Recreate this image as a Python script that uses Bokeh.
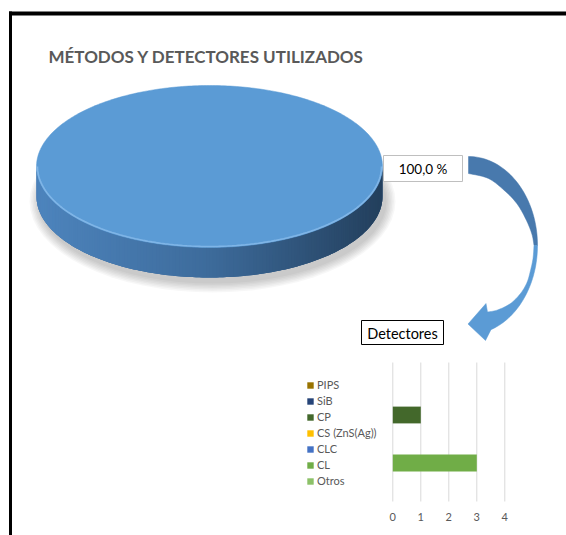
import numpy as np
from bokeh.plotting import figure
from bokeh.models import (Range1d, LinearAxis, FixedTicker, Legend, LegendItem,
                          ColumnDataSource)
from bokeh.core.properties import value
from bokeh.embed import file_html
from bokeh.resources import INLINE

# ---------------- data ----------------
title_text = "MÉTODOS  Y DETECTORES  UTILIZADOS"
pie_labels = ["Métodos"]
pie_values = [4]
detector_title = "Detectores"
detectors = ["PIPS", "SiB", "CP", "CS (ZnS(Ag))", "CLC", "CL", "Otros"]
detector_counts = [0, 0, 1, 0, 0, 3, 0]
detector_colors = ["#997300", "#264478", "#43682B", "#FFC000", "#4472C4", "#70AD47", "#8CC168"]
x_ticks = [0, 1, 2, 3, 4]

# ---------------- layout (page pixels) ----------------
W, H = 566, 535
FX0, FX1 = 0, W
FY0, FY1 = 0, H
FONT_NAME = "Lato"
FONT = value(FONT_NAME)
GRAY = "#595959"

# bar chart placement
BX0, BXU = 392.3, 28.0        # page x of value 0, px per unit
BY0, BYU = 382.5, 16.0        # page y of first category, px per category
AXIS_Y = 501                  # page y of the (invisible) bar value axis line

p = figure(width=W, height=H, output_backend="svg", toolbar_location=None,
           x_axis_type=None, y_axis_type=None,
           x_range=Range1d(FX0, FX1), y_range=Range1d(FY1, FY0),
           min_border=0)
p.outline_line_color = None
p.background_fill_color = "white"
p.border_fill_color = "white"
p.extra_x_ranges = {"bx": Range1d((FX0 - BX0) / BXU, (FX1 - BX0) / BXU)}
p.extra_y_ranges = {"by": Range1d((FY1 - BY0) / BYU, (FY0 - BY0) / BYU)}

# ---------------- frame border ----------------
p.line(x=[8.5, 566], y=[13, 13], line_color="black", line_width=4)
p.line(x=[10, 10], y=[11, 535], line_color="black", line_width=3)

# ---------------- title ----------------
p.text(x=[48], y=[56], text=[title_text], text_font=FONT, text_font_style="bold",
       text_font_size="17px", text_color=GRAY, text_baseline="alphabetic")

# ---------------- 3D pie ----------------
cx, cy, rx, ry, depth = 209.0, 166.0, 173.0, 81.0, 30.0

# soft shadow
for k in range(7):
    p.ellipse(x=[cx + 3], y=[cy + depth + 5], width=[2 * rx + 2 + 3 * k],
              height=[2 * ry + 2 + 3 * k], fill_color="black", fill_alpha=0.03,
              line_color=None)

def hex2rgb(h):
    return np.array([int(h[i:i + 2], 16) for i in (1, 3, 5)], dtype=float)

c_left, c_mid, c_right = hex2rgb("#4D84BD"), hex2rgb("#3D6B9B"), hex2rgb("#233F5C")

def side_color(frac):
    if frac < 0.5:
        c = c_left + (c_mid - c_left) * (frac / 0.5)
    else:
        c = c_mid + (c_right - c_mid) * ((frac - 0.5) / 0.5)
    return "#%02x%02x%02x" % tuple(int(round(v)) for v in c)

total = float(sum(pie_values))
angles = np.concatenate([[0.0], np.cumsum(pie_values) / total * 2 * np.pi])
for i, v in enumerate(pie_values):
    a0, a1 = angles[i], angles[i + 1]
    # visible front side: angles between pi/2 and 3pi/2 (clockwise from top)
    s0, s1 = max(a0, np.pi / 2), min(a1, 3 * np.pi / 2)
    if s1 > s0:
        n = 160
        t = np.linspace(s0, s1, n + 1)
        xs = cx + rx * np.sin(t)
        ys = cy - ry * np.cos(t)
        p.patch(x=list(xs) + list(xs[::-1]), y=list(ys) + list(ys[::-1] + depth),
                fill_color=side_color(0.5), line_color=None)
        sx, sy, sc = [], [], []
        for k in range(n):
            k2 = min(k + 2, n)
            seg_x = list(xs[k:k2 + 1])
            seg_y = list(ys[k:k2 + 1])
            sx.append(seg_x + seg_x[::-1])
            sy.append(seg_y + [yy + depth for yy in seg_y[::-1]])
            frac = ((xs[k] + xs[k + 1]) / 2 - (cx - rx)) / (2 * rx)
            sc.append(side_color(frac))
        p.patches(xs=sx, ys=sy, fill_color=sc, line_color=None)
    # top face
    t = np.linspace(a0, a1, 361)
    tx = list(cx + rx * np.sin(t))
    ty = list(cy - ry * np.cos(t))
    if a1 - a0 < 2 * np.pi - 1e-9:
        tx = [cx] + tx
        ty = [cy] + ty
    p.patch(x=tx, y=ty, fill_color="#5B9BD5", line_color="#5B9BD5", line_width=0.5)
    # bevel highlight on the front rim
    if s1 > s0:
        t = np.linspace(s0, s1, 121)
        p.line(x=cx + (rx - 1) * np.sin(t), y=cy - (ry - 1) * np.cos(t),
               line_color="#86BAEA", line_width=1.6, line_alpha=0.85)

# data label of the slice
pct_text = [("%.1f" % (100.0 * v / total)).replace(".", ",") + " %" for v in pie_values]
p.quad(left=[383], right=[462], top=[155], bottom=[181], fill_color="white",
       line_color="#BFBFBF", line_width=1)
p.text(x=[422.5], y=[168.5], text=pct_text[:1], text_font=FONT, text_font_size="13.5px",
       text_color="black", text_align="center", text_baseline="middle")

# ---------------- curved arrow (decoration) ----------------
def catmull(pts, per=10):
    pts = np.asarray(pts, dtype=float)
    out = []
    for j in range(len(pts) - 1):
        p0 = pts[max(j - 1, 0)]
        p1, p2 = pts[j], pts[j + 1]
        p3 = pts[min(j + 2, len(pts) - 1)]
        for s in np.linspace(0, 1, per, endpoint=False):
            out.append(0.5 * ((2 * p1) + (-p0 + p2) * s +
                              (2 * p0 - 5 * p1 + 4 * p2 - p3) * s ** 2 +
                              (-p0 + 3 * p1 - 3 * p2 + p3) * s ** 3))
    out.append(pts[-1])
    return np.array(out)

acx, acy, arx, ary = 468.0, 245.0, 69.0, 89.0
th_d = np.radians(np.linspace(-90, 0, 40))
outer_dark = np.c_[acx + arx * np.cos(th_d), acy + ary * np.sin(th_d)]
th_l = np.radians(np.linspace(0, 71, 40))
outer_light = np.c_[acx + arx * np.cos(th_l), acy + ary * np.sin(th_l)]
inner_dark = catmull([(468, 173), (488, 178), (505, 191), (517, 204), (526, 220),
                      (531.5, 234), (533.5, 245)])
inner_light = catmull([(533.5, 245), (532.5, 258), (530, 270), (526.5, 282),
                       (520, 293), (510, 303), (497, 309.5), (487, 311.5)])

dx = list(outer_dark[:, 0]) + list(inner_dark[::-1, 0])
dy = list(outer_dark[:, 1]) + list(inner_dark[::-1, 1])
p.patch(x=dx, y=dy, fill_color="#4879AD", line_color="#4879AD", line_width=0.5)

head_x, head_y = [485, 467.5, 485.5], [340, 323.5, 303]
lx = list(outer_light[:, 0]) + head_x + list(inner_light[::-1, 0])
ly = list(outer_light[:, 1]) + head_y + list(inner_light[::-1, 1])
p.patch(x=lx, y=ly, fill_color="#5B9BD5", line_color="#5B9BD5", line_width=0.5)

# ---------------- detector bar chart ----------------
p.quad(left=[361], right=[443], top=[320], bottom=[344], fill_color="white",
       line_color="black", line_width=1)
p.text(x=[402], y=[332.5], text=[detector_title], text_font=FONT, text_font_size="14.5px",
       text_color="black", text_align="center", text_baseline="middle")

p.segment(x0=x_ticks, x1=x_ticks, y0=[(362 - BY0) / BYU] * len(x_ticks),
          y1=[(AXIS_Y - BY0) / BYU] * len(x_ticks), x_range_name="bx", y_range_name="by",
          line_color="#D9D9D9", line_width=1)

src = ColumnDataSource(dict(idx=list(range(len(detectors))), val=detector_counts,
                            color=detector_colors, name=detectors))
bars = p.hbar(y="idx", left=0, right="val", height=1.05, fill_color="color",
              line_color=None, source=src, x_range_name="bx", y_range_name="by")

legend = Legend(items=[LegendItem(label=d, renderers=[bars], index=i)
                       for i, d in enumerate(detectors)],
                location=(306, FY1 - 487), orientation="vertical",
                glyph_width=8, glyph_height=8, label_standoff=3, spacing=3,
                label_height=13, padding=0, margin=0,
                border_line_color=None, background_fill_alpha=0,
                label_text_font=FONT_NAME, label_text_font_size="11px",
                label_text_color=GRAY)
p.add_layout(legend)

xaxis = LinearAxis(x_range_name="bx", ticker=FixedTicker(ticks=x_ticks),
                   fixed_location=AXIS_Y,
                   axis_line_color=None, major_tick_line_color=None,
                   minor_tick_line_color=None, major_label_standoff=5,
                   major_label_text_font=FONT_NAME, major_label_text_font_size="11px",
                   major_label_text_color=GRAY)
p.add_layout(xaxis, "below")

open("out.html", "w").write(file_html(p, INLINE))
